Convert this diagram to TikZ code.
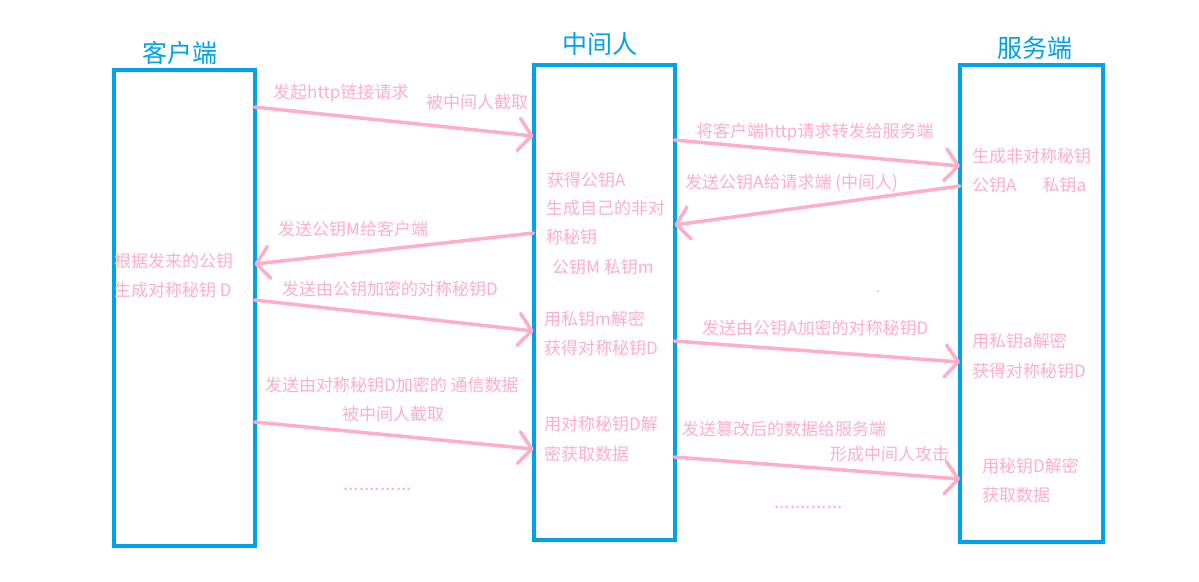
\documentclass[tikz,border=0pt]{standalone}
\usepackage{fontspec}
\setmainfont{Noto Sans CJK SC}
\usetikzlibrary{arrows.meta}
\definecolor{pblue}{HTML}{00A2E8}
\definecolor{ppink}{HTML}{FFAEC9}
\begin{document}
\begin{tikzpicture}[x=1pt,y=-1pt,
  lane/.style={draw=pblue, line width=4pt, inner sep=0pt, outer sep=0pt},
  title/.style={text=pblue, inner sep=0pt, font=\fontsize{25pt}{30pt}\selectfont},
  msg/.style={anchor=west, inner sep=0pt, text=ppink, font=\fontsize{17pt}{20pt}\selectfont},
  dots/.style={anchor=base west, inner sep=0pt, text=ppink, font=\fontsize{19pt}{20pt}\selectfont},
  flow/.style={draw=ppink, line width=3.5pt, line cap=round,
    -{Straight Barb[length=13pt,width=32pt,round]}}]
\fill[white] (0,0) rectangle (1199,581);
\useasboundingbox (0,0) rectangle (1199,581);
% lanes
\node[lane, minimum width=141pt, minimum height=476.5pt] (client) at (184,307.75) {};
\node[lane, minimum width=141pt, minimum height=475.5pt] (mid) at (604,302.25) {};
\node[lane, minimum width=142.5pt, minimum height=477pt] (server) at (1031.25,303.5) {};
% titles
\node[title] (tclient) at (180,53) {客户端};
\node[title] (tmid) at (600,44) {中间人};
\node[title] (tserver) at (1035,48) {服务端};
% arrows
\draw[flow] (client.east |- 0,107) -- (mid.west |- 0,136);
\draw[flow] (mid.east |- 0,140) -- (server.west |- 0,166);
\draw[flow] (server.west |- 0,186) -- (mid.east |- 0,225);
\draw[flow] (mid.west |- 0,233) -- (client.east |- 0,264);
\draw[flow] (client.east |- 0,300) -- (mid.west |- 0,331);
\draw[flow] (mid.east |- 0,341) -- (server.west |- 0,362);
\draw[flow] (client.east |- 0,422) -- (mid.west |- 0,449);
\draw[flow] (mid.east |- 0,457) -- (server.west |- 0,479);
% labels on arrows
\node[msg] (l1) at (273,93) {发起http链接请求};
\node[msg] (l1b) at (426,102) {被中间人截取};
\node[msg] (l2) at (696,132) {将客户端http请求转发给服务端};
\node[msg] (l3) at (685,183) {发送公钥A给请求端 (中间人)};
\node[msg] (l4) at (278,229) {发送公钥M给客户端};
\node[msg] (l5) at (282,289) {发送由公钥加密的对称秘钥D};
\node[msg] (l6) at (702,328) {发送由公钥A加密的对称秘钥D};
\node[msg] (l7) at (265,385) {发送由对称秘钥D加密的 通信数据};
\node[msg] (l7b) at (342,414) {被中间人截取};
\node[msg] (l8) at (682,429) {发送篡改后的数据给服务端};
\node[msg] (l8b) at (830,454) {形成中间人攻击};
\node[dots] (d1) at (343,490) {.............};
\node[dots] (d2) at (774,508) {.............};
\fill[ppink] (878,291) circle (1pt);
% client texts
\node[msg] (c1) at (114,261) {根据发来的公钥};
\node[msg] (c2) at (114,290) {生成对称秘钥 D};
% middle texts
\node[msg] (m1) at (547,180) {获得公钥A};
\node[msg] (m2) at (546,208) {生成自己的非对};
\node[msg] (m3) at (546,237) {称秘钥};
\node[msg] (m4) at (552,267) {公钥M 私钥m};
\node[msg] (m5) at (544,319) {用私钥m解密};
\node[msg] (m6) at (544,348) {获得对称秘钥D};
\node[msg] (m7) at (544,424) {用对称秘钥D解};
\node[msg] (m8) at (544,454) {密获取数据};
% server texts
\node[msg] (s1) at (972,156) {生成非对称秘钥};
\node[msg] (s2) at (972,185) {公钥A\hspace{26pt}私钥a};
\node[msg] (s3) at (972,341) {用私钥a解密};
\node[msg] (s4) at (972,371) {获得对称秘钥D};
\node[msg] (s5) at (982,466) {用秘钥D解密};
\node[msg] (s6) at (982,495) {获取数据};
\end{tikzpicture}
\end{document}
